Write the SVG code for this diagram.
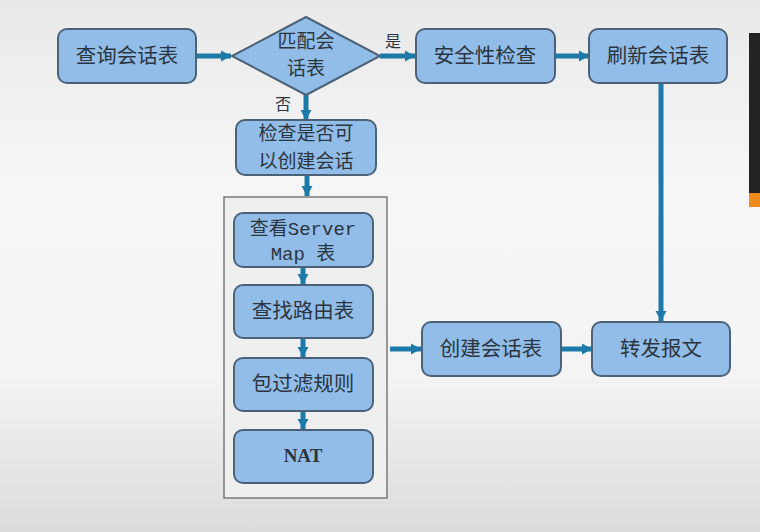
<svg xmlns="http://www.w3.org/2000/svg" width="760" height="532" viewBox="0 0 760 532">
<defs>
<linearGradient id="bg" x1="0" y1="0" x2="0" y2="1">
<stop offset="0" stop-color="#e9e9e9"/>
<stop offset="0.35" stop-color="#f6f6f6"/>
<stop offset="0.7" stop-color="#f4f4f4"/>
<stop offset="1" stop-color="#dcdcdc"/>
</linearGradient>
<marker id="ah" markerUnits="userSpaceOnUse" markerWidth="12" markerHeight="14" refX="10" refY="7" orient="auto">
<path d="M0,1.5 L10,7 L0,12.5 Z" fill="#1d7aa8"/>
</marker>
<style>
.box{fill:#92bde8;stroke:#4c6278;stroke-width:2}
.t{font-family:"Noto Sans CJK SC","Liberation Sans",sans-serif;font-size:20.5px;fill:#2b3540;text-anchor:middle}
.t2{font-family:"Noto Sans CJK SC","Liberation Sans",sans-serif;font-size:19px;fill:#2b3540;text-anchor:middle}
.m{font-family:"Liberation Mono","Noto Sans CJK SC",monospace;font-size:19px;fill:#2b3540;text-anchor:middle}
.s{font-family:"Liberation Serif",serif;font-size:19px;font-weight:bold;fill:#2b3540;text-anchor:middle}
.lb{font-family:"Noto Sans CJK SC",sans-serif;font-size:16px;fill:#2b3540}
.c{stroke:#1d7aa8;stroke-width:5;fill:none}
</style>
</defs>
<rect width="760" height="532" fill="url(#bg)"/>
<rect x="749" y="33" width="11" height="174" fill="#222"/>
<rect x="749" y="193" width="11" height="14" fill="#f08a1c"/>

<g id="container"><rect x="224" y="197" width="163" height="301" fill="#efefef" stroke="#7a7a7a" stroke-width="1.5"/></g>

<g id="connectors">
<line class="c" x1="196" y1="56" x2="231" y2="56" marker-end="url(#ah)"/>
<line class="c" x1="380" y1="56" x2="415" y2="56" marker-end="url(#ah)"/>
<line class="c" x1="555" y1="56" x2="589" y2="56" marker-end="url(#ah)"/>
<line class="c" x1="661" y1="83" x2="661" y2="321" marker-end="url(#ah)"/>
<line class="c" x1="306" y1="95" x2="306" y2="120" marker-end="url(#ah)"/>
<line class="c" x1="307" y1="175" x2="307" y2="196" marker-end="url(#ah)"/>
<line class="c" x1="303" y1="267" x2="303" y2="284" marker-end="url(#ah)"/>
<line class="c" x1="303" y1="338" x2="303" y2="357" marker-end="url(#ah)"/>
<line class="c" x1="303" y1="411" x2="303" y2="429" marker-end="url(#ah)"/>
<line class="c" x1="390" y1="349" x2="421" y2="349" marker-end="url(#ah)"/>
<line class="c" x1="561" y1="349" x2="592" y2="349" marker-end="url(#ah)"/>
<text class="lb" x="385" y="47">是</text>
<text class="lb" x="275" y="110">否</text>
</g>

<g id="n1"><rect class="box" x="58" y="29" width="138" height="54" rx="9"/><text class="t" x="127" y="63">查询会话表</text></g>
<g id="n2"><path class="box" d="M306,17 L380,56 L306,95 L232,56 Z"/><text class="t2" x="306" y="48">匹配会</text><text class="t2" x="306" y="75">话表</text></g>
<g id="n3"><rect class="box" x="416" y="29" width="139" height="54" rx="9"/><text class="t" x="485" y="63">安全性检查</text></g>
<g id="n4"><rect class="box" x="589" y="29" width="138" height="54" rx="9"/><text class="t" x="658" y="63">刷新会话表</text></g>
<g id="n5"><rect class="box" x="236" y="120" width="140" height="55" rx="9"/><text class="t2" x="306" y="140">检查是否可</text><text class="t2" x="306" y="168">以创建会话</text></g>
<g id="n6"><rect class="box" x="234" y="213" width="139" height="54" rx="9"/><text class="m" x="303" y="235">查看Server</text><text class="m" x="303" y="260">Map 表</text></g>
<g id="n7"><rect class="box" x="234" y="285" width="139" height="53" rx="9"/><text class="t" x="303" y="318">查找路由表</text></g>
<g id="n8"><rect class="box" x="234" y="358" width="139" height="53" rx="9"/><text class="t" x="303" y="391">包过滤规则</text></g>
<g id="n9"><rect class="box" x="234" y="430" width="139" height="53" rx="9"/><text class="s" x="303" y="462">NAT</text></g>
<g id="n10"><rect class="box" x="422" y="322" width="139" height="54" rx="9"/><text class="t" x="491" y="356">创建会话表</text></g>
<g id="n11"><rect class="box" x="592" y="322" width="138" height="54" rx="9"/><text class="t" x="661" y="356">转发报文</text></g>
</svg>
